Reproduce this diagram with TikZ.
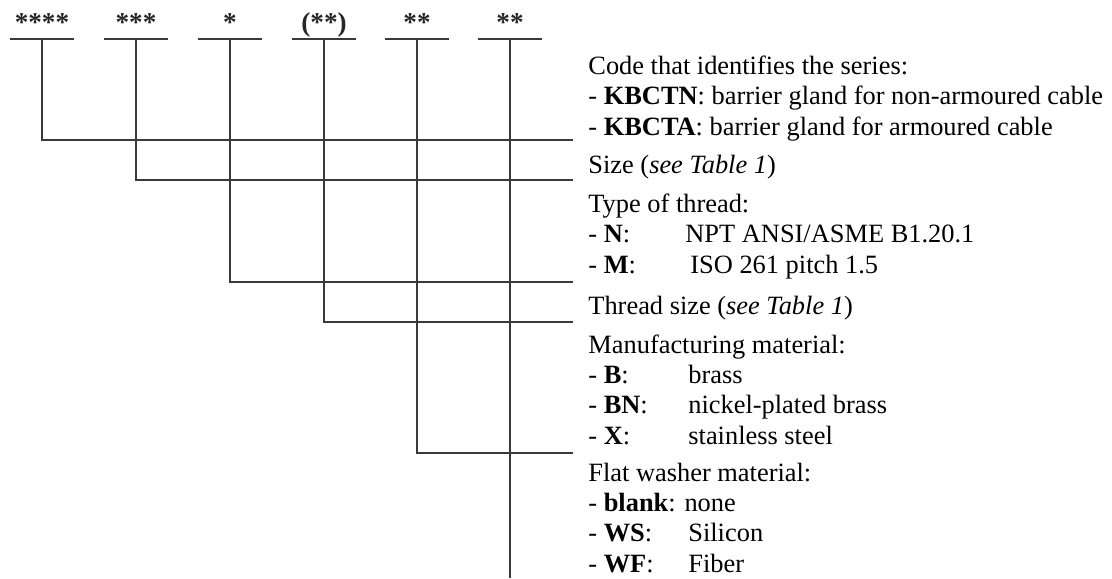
\documentclass[tikz,border=0pt]{standalone}
\usepackage{fontspec}
\setmainfont{Liberation Serif}
\usetikzlibrary{positioning}
\definecolor{wiregray}{HTML}{3A3A3A}
\newcommand{\optkey}[2][50pt]{\makebox[#1][l]{- \textbf{#2}:}}

\begin{document}
\begin{tikzpicture}[
  x=0.5pt, y=-0.5pt,
  field/.style={
    font=\fontsize{13.6}{15.15}\selectfont\bfseries, minimum width=32pt,
    inner xsep=0pt, inner ysep=3.5pt, text depth=0pt, anchor=south,
    text=black!85
  },
  bar/.style={line width=0.75pt, draw=wiregray},
  wire/.style={line width=0.7pt, draw=wiregray},
  desc/.style={
    font=\fontsize{13.2}{15.15}\selectfont, align=left,
    anchor=base west, inner sep=0pt
  },
]
\useasboundingbox (0,0) rectangle (1112,578);

% Fields of the code
\node[field] (fseries)   at (42,39)  {****};
\node[field] (fsize)     at (136,39) {***};
\node[field] (fthread)   at (230,39) {*};
\node[field] (ftsize)    at (324,39) {(**)};
\node[field] (fmaterial) at (417,39) {**};
\node[field] (fwasher)   at (510,39) {**};

\foreach \f in {fseries,fsize,fthread,ftsize,fmaterial,fwasher}
  \draw[bar] (\f.south west) -- (\f.south east);

% Descriptions (placed at the baseline of their last line)
\node[desc] (dseries) at (588,135) {
  Code that identifies the series:\\
  - \textbf{KBCTN}: barrier gland for non-armoured cable\\
  - \textbf{KBCTA}: barrier gland for armoured cable
};
\node[desc] (dsize) at (588,173) {Size (\textit{see Table 1})};
\node[desc] (dthread) at (588,273) {
  Type of thread:\\
  \optkey[48.5pt]{N}NPT ANSI/ASME B1.20.1\\
  \optkey[51pt]{M}ISO 261 pitch 1.5
};
\node[desc] (dtsize) at (588,314) {Thread size (\textit{see Table 1})};
\node[desc] (dmaterial) at (588,444) {
  Manufacturing material:\\
  \optkey{B}brass\\
  \optkey{BN}nickel-plated brass\\
  \optkey{X}stainless steel
};
\node[desc] (dwasher) at (588,572) {
  Flat washer material:\\
  - \textbf{blank}: none\\
  \optkey{WS}Silicon\\
  \optkey{WF}Fiber
};

% Wire ends
\coordinate (eseries)   at (573,140);
\coordinate (esize)     at (573,180);
\coordinate (ethread)   at (573,282);
\coordinate (etsize)    at (573,322);
\coordinate (ematerial) at (573,453);
\coordinate (ewasher)   at (510,578);

% Wires
\draw[wire] (fseries.south) |- (eseries);
\draw[wire] (fsize.south) |- (esize);
\draw[wire] (fthread.south) |- (ethread);
\draw[wire] (ftsize.south) |- (etsize);
\draw[wire] (fmaterial.south) |- (ematerial);
\draw[wire] (fwasher.south) -- (ewasher);

\end{tikzpicture}
\end{document}
